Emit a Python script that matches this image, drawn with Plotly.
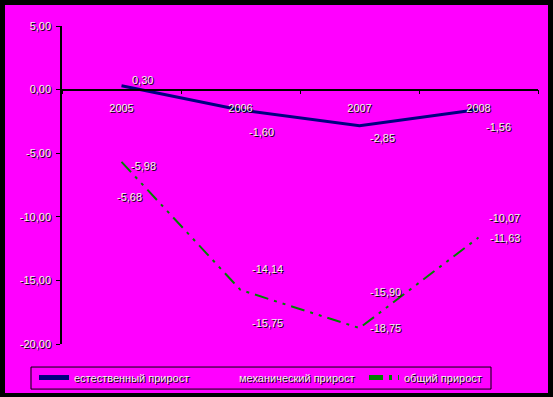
import plotly.graph_objects as go

years = ["2005", "2006", "2007", "2008"]
natural = [0.30, -1.60, -2.85, -1.56]
mechanical = [-5.98, -14.14, -15.90, -10.07]
total = [-5.68, -15.75, -18.75, -11.63]
names = ["естественный прирост", "механический прирост", "общий прирост"]
y_ticks = [5, 0, -5, -10, -15, -20]

MAG = "#FF00FF"
TXT = "#f0f0f0"
FONT = dict(family="Liberation Sans, Arial", size=11, color=TXT,
            shadow="1px 1px 0px #000000")


def fmt(v):
    return f"{v:.2f}".replace(".", ",")


fig = go.Figure()
fig.add_trace(go.Scatter(x=years, y=natural, mode="lines", name=names[0],
                         line=dict(color="#000080", width=3)))
fig.add_trace(go.Scatter(x=years, y=mechanical, mode="lines", name=names[1],
                         line=dict(color=MAG, width=2)))
fig.add_trace(go.Scatter(x=years, y=total, mode="lines", name=names[2],
                         line=dict(color="#008000", width=2,
                                   dash="14px,6px,3px,6px,3px,6px")))

# data label offsets (style only)
nat_shift = [(21, 6), (21, -22), (23, -12), (20, -18)]
mech_shift = [(22, 0), (27, 0), (26, 0), (26, 0)]
tot_shift = [(8, -35), (27, -33), (26, 0), (26, 0)]

for series, shifts in ((natural, nat_shift), (mechanical, mech_shift), (total, tot_shift)):
    for i, (v, (dx, dy)) in enumerate(zip(series, shifts)):
        fig.add_annotation(x=i, y=v, xref="x", yref="y", text=fmt(v), showarrow=False,
                           xshift=dx, yshift=dy, font=dict(FONT))

fig.update_layout(
    width=553, height=397,
    paper_bgcolor="black", plot_bgcolor=MAG,
    margin=dict(l=62, r=15, t=26, b=53, autoexpand=False),
    font=FONT,
    showlegend=True,
    legend=dict(orientation="h", x=-28 / 476, xanchor="left", y=-19 / 317.5, yanchor="top",
                bgcolor="rgba(0,0,0,0)", borderwidth=0,
                entrywidth=120, entrywidthmode="pixels", font=FONT,
                itemsizing="constant", tracegroupgap=0),
    shapes=[
        dict(type="rect", xref="paper", yref="paper",
             x0=-57 / 476, x1=1 + 10 / 476, y0=-49 / 317.5, y1=1 + 21 / 317.5,
             fillcolor=MAG, line=dict(width=0), layer="below"),
        dict(type="rect", xref="paper", yref="paper",
             x0=-31 / 476, x1=(491 - 62) / 476, y0=-45 / 317.5, y1=-23 / 317.5,
             fillcolor="rgba(0,0,0,0)", line=dict(color="black", width=1), layer="above"),
    ],
    xaxis=dict(type="category", range=[-0.5, 3.5], anchor="free", position=0.8,
               showline=True, linecolor="black", linewidth=1.5, ticks="outside",
               tickson="boundaries", ticklen=4, tickcolor="black", showgrid=False,
               zeroline=False, tickfont=FONT, automargin=False, ticklabelstandoff=8),
    yaxis=dict(range=[-20, 5], tickvals=y_ticks, ticktext=[fmt(v) for v in y_ticks],
               showline=True, linecolor="black", linewidth=1.5, ticks="outside",
               ticklen=4, tickcolor="black", showgrid=False, zeroline=False,
               ticklabelstandoff=3, tickfont=FONT, automargin=False),
)

fig.write_html("out.html", post_script="document.body.style.margin='0';",
               config={"displayModeBar": False})
